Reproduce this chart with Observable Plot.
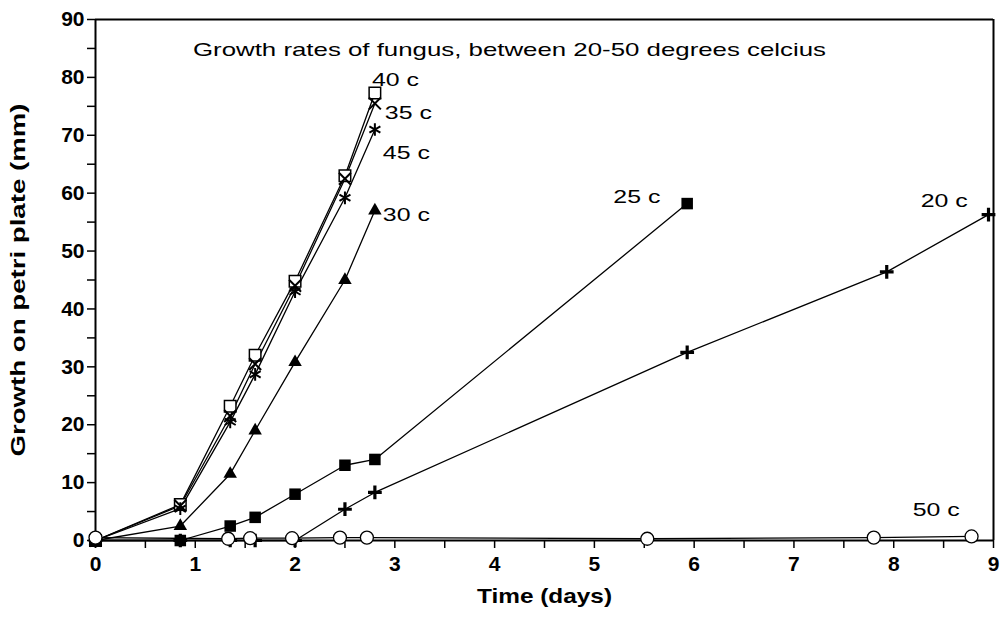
<!DOCTYPE html>
<html>
<head>
<meta charset="utf-8">
<script src="https://cdn.jsdelivr.net/npm/d3@7"></script>
<script src="https://cdn.jsdelivr.net/npm/@observablehq/plot@0.6"></script>
<style>
  html, body { margin: 0; padding: 0; background: #fff; }
  #chart svg { display: block; }
</style>
</head>
<body>
<div id="chart"></div>
<script>
// ---- Data ----
const times = [0, 0.85, 1.35, 1.6, 2.0, 2.5, 2.8];
const g40 = [0, 6.2, 23.2, 32, 44.8, 63, 77.3];
const g35 = [0, 6, 21.5, 30.5, 44, 62.5, 75.5];
const g45 = [0, 5.5, 20.5, 28.7, 43, 59.2, 71];
const g30 = [0, 2.5, 11.5, 19, 30.8, 45, 57];
const times25 = [0, 0.85, 1.35, 1.6, 2.0, 2.5, 2.8, 5.93];
const g25 = [0, 0, 2.5, 4, 8, 13, 14, 58.2];
const times20 = [0, 0.85, 1.35, 1.6, 2.0, 2.5, 2.8, 5.93, 7.93, 8.95];
const g20 = [0, 0, 0, 0, 0, 5.4, 8.3, 32.5, 46.4, 56.3];
const times50 = [0, 1.33, 1.55, 1.97, 2.45, 2.72, 5.53, 7.8, 8.78];
const g50 = [0.5, 0.3, 0.4, 0.4, 0.5, 0.5, 0.3, 0.5, 0.7];

const seriesNames = ["40 c", "35 c", "45 c", "30 c", "25 c", "20 c", "50 c"];
const labelX = [2.77, 2.9, 2.88, 2.88, 5.19, 8.27, 8.19];
const labelY = [79.6, 73.9, 67, 56.3, 59.4, 58.7, 5.35];

const xTicks = d3.range(0, 9.01, 0.5);
const yTicks = d3.range(0, 90.01, 5);

const titleText = "Growth rates of fungus, between 20-50 degrees celcius";
const xLabel = "Time (days)";
const yLabel = "Growth on petri plate (mm)";

// ---- Build table ----
const seriesData = [
  [seriesNames[0], times, g40],
  [seriesNames[1], times, g35],
  [seriesNames[2], times, g45],
  [seriesNames[3], times, g30],
  [seriesNames[4], times25, g25],
  [seriesNames[5], times20, g20],
  [seriesNames[6], times50, g50]
];
const rows = seriesData.flatMap(([name, t, g]) => t.map((d, i) => ({series: name, x: d, y: g[i]})));
const labels = seriesNames.map((n, i) => ({name: n, x: labelX[i], y: labelY[i]}));
const of = name => rows.filter(r => r.series === name);

const font = "'Liberation Sans', Arial, Helvetica, sans-serif";

const chart = Plot.plot({
  width: 1008,
  height: 621,
  marginLeft: 95,
  marginRight: 15,
  marginTop: 19,
  marginBottom: 81,
  style: {fontFamily: font, background: "#fff", color: "#000"},
  x: {domain: [0, 9]},
  y: {domain: [0, 90]},
  marks: [
    Plot.axisX({ticks: xTicks, tickSize: 8, tickPadding: 8, strokeWidth: 1.5,
      tickFormat: d => Number.isInteger(d) ? String(d) : "",
      fontSize: 21, fontWeight: "bold", label: null}),
    Plot.axisY({ticks: yTicks, tickSize: 8, tickPadding: 3, strokeWidth: 1.5,
      tickFormat: d => d % 10 === 0 ? String(d) : "",
      fontSize: 21, fontWeight: "bold", label: null}),
    Plot.ruleX([0], {strokeWidth: 2}),
    Plot.ruleY([0], {strokeWidth: 2}),
    Plot.ruleY([90], {strokeWidth: 2}),
    Plot.ruleX([9], {strokeWidth: 2}),
    Plot.line(rows, {x: "x", y: "y", z: "series", stroke: "black", strokeWidth: 1.3}),
    Plot.dot(of("40 c"), {x: "x", y: "y", symbol: "square", r: 6.5, stroke: "black", fill: "white", strokeWidth: 1.5}),
    Plot.dot(of("35 c"), {x: "x", y: "y", symbol: "times", r: 5.5, stroke: "black", strokeWidth: 2}),
    Plot.dot(of("45 c"), {x: "x", y: "y", symbol: "asterisk", r: 6, stroke: "black", strokeWidth: 2}),
    Plot.dot(of("30 c"), {x: "x", y: "y", symbol: "triangle", r: 5, fill: "black", stroke: "none"}),
    Plot.dot(of("25 c"), {x: "x", y: "y", symbol: "square", r: 6.5, fill: "black", stroke: "none"}),
    Plot.dot(of("20 c"), {x: "x", y: "y", symbol: "plus", r: 4.5, stroke: "black", strokeWidth: 3.2}),
    Plot.dot(of("50 c"), {x: "x", y: "y", symbol: "circle", r: 6.5, stroke: "black", fill: "white", strokeWidth: 1.3}),
    Plot.text(labels, {x: "x", y: "y", text: "name", textAnchor: "start", fontSize: 19, fill: "black"}),
    Plot.text([titleText], {frameAnchor: "top", textAnchor: "middle", dx: -35, dy: 23, fontSize: 19, fill: "black"}),
    Plot.text([xLabel], {frameAnchor: "bottom", textAnchor: "middle", dy: 62, fontSize: 21, fontWeight: "bold", fill: "black"}),
    Plot.text([yLabel], {frameAnchor: "left", textAnchor: "middle", dx: -77, rotate: -90, fontSize: 21, fontWeight: "bold", fill: "black"})
  ]
});

// stretch texts to the wide lettering of the original figure
const widths = new Map([[titleText, 633], [xLabel, 135], [yLabel, 353]]);
seriesNames.forEach(n => widths.set(n, 47));
d3.select(chart).selectAll("text").each(function () {
  const w = widths.get(this.textContent);
  if (w) d3.select(this).attr("textLength", w).attr("lengthAdjust", "spacingAndGlyphs");
});

document.getElementById("chart").appendChild(chart);
</script>
</body>
</html>
